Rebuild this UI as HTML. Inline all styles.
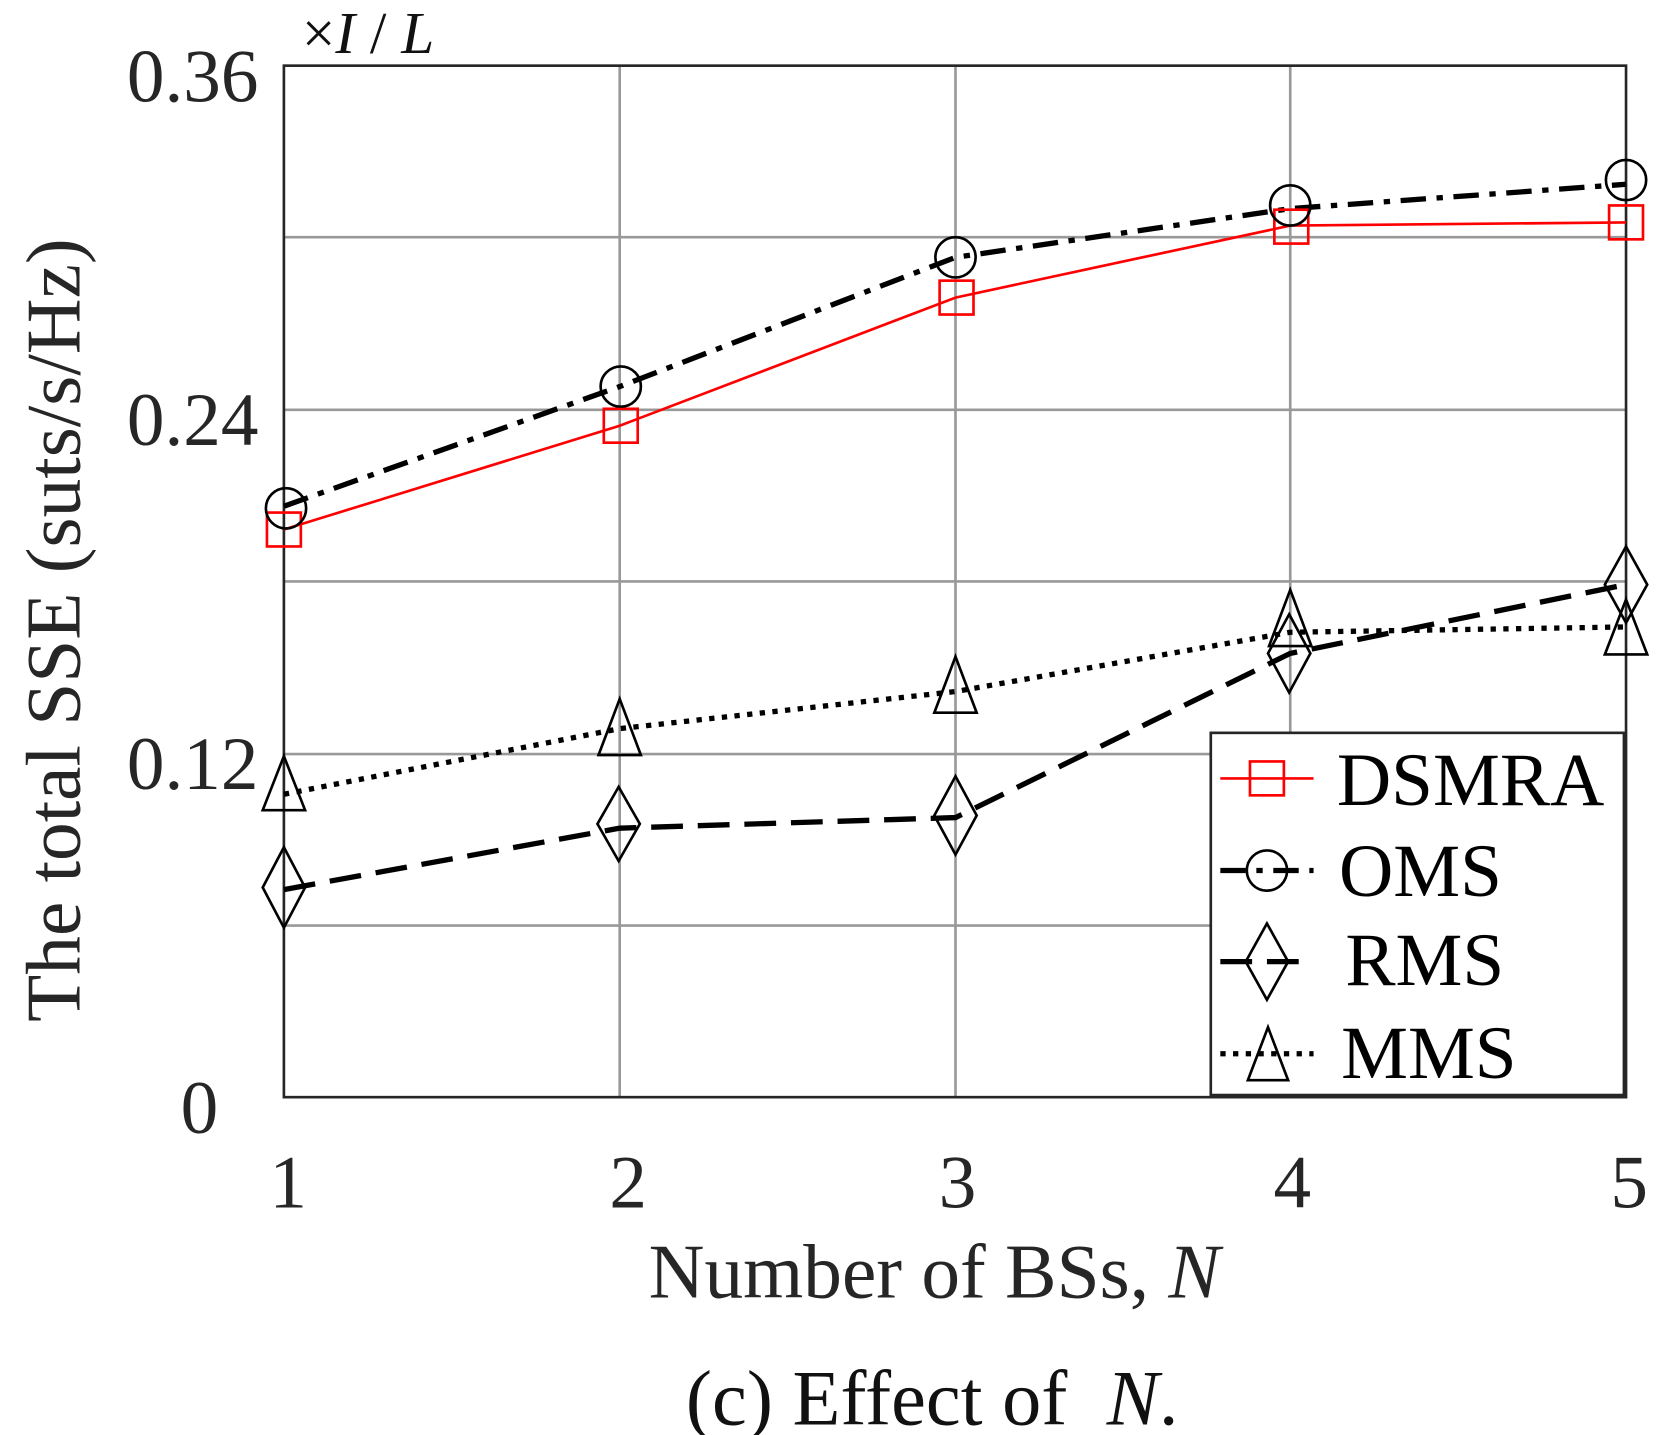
<!DOCTYPE html>
<html><head><meta charset="utf-8"><style>html,body{margin:0;padding:0;background:#fff}svg{display:block}</style></head>
<body>
<svg width="1661" height="1435" viewBox="0 0 1568 1355" preserveAspectRatio="none" xmlns="http://www.w3.org/2000/svg" font-family="'Liberation Serif',serif">
<rect width="1568" height="1355" fill="#fff"/>
<g stroke="#999" stroke-width="2.5">
<line x1="585" y1="62" x2="585" y2="1036"/><line x1="902" y1="62" x2="902" y2="1036"/><line x1="1218" y1="62" x2="1218" y2="1036"/>
<line x1="268" y1="224" x2="1535" y2="224"/><line x1="268" y1="387" x2="1535" y2="387"/><line x1="268" y1="549" x2="1535" y2="549"/><line x1="268" y1="712" x2="1535" y2="712"/><line x1="268" y1="874" x2="1535" y2="874"/>
</g>
<rect x="268" y="62" width="1267" height="974" fill="none" stroke="#262626" stroke-width="2.5"/>
<g fill="#262626" font-size="71" text-anchor="end">
<text x="244" y="96">0.36</text><text x="244" y="420">0.24</text><text x="244" y="745">0.12</text><text x="206" y="1070">0</text>
</g>
<g fill="#262626" font-size="71" text-anchor="middle">
<text x="272" y="1140">1</text><text x="593" y="1140">2</text><text x="904" y="1140">3</text><text x="1220" y="1140">4</text><text x="1538" y="1140">5</text>
</g>
<text x="882" y="1225" font-size="73" fill="#262626" text-anchor="middle">Number of BSs, <tspan font-style="italic">N</tspan></text>
<text x="880" y="1345" font-size="74" fill="#111" text-anchor="middle">(c) Effect of&#160; <tspan font-style="italic">N</tspan>.</text>
<text transform="translate(75,595) rotate(-90)" font-size="73" fill="#262626" text-anchor="middle">The total SSE (suts/s/Hz)</text>
<text x="285" y="50" font-size="56" fill="#111">×<tspan font-style="italic">I</tspan> / <tspan font-style="italic">L</tspan></text>
<polyline points="268,500 585,402 902,281 1218,213 1535,210" fill="none" stroke="#f00" stroke-width="2.5"/>
<polyline points="268,478 585,365 902,243 1218,197 1535,174" fill="none" stroke="#000" stroke-width="5" stroke-dasharray="24,10,6,10"/>
<polyline points="268,840 585,782 902,772 1218,617 1535,552" fill="none" stroke="#000" stroke-width="5" stroke-dasharray="30,14"/>
<polyline points="268,750 585,688 902,653 1218,597 1535,592" fill="none" stroke="#000" stroke-width="5" stroke-dasharray="5,7"/>
<g fill="none" stroke="#f00" stroke-width="2.5">
<rect x="252" y="484" width="32" height="32"/><rect x="570" y="386" width="32" height="32"/><rect x="887" y="265" width="32" height="32"/><rect x="1203" y="198" width="32" height="32"/><rect x="1519" y="194" width="32" height="32"/>
</g>
<g fill="none" stroke="#000" stroke-width="2.5">
<circle cx="270" cy="480" r="19"/><circle cx="586" cy="365" r="19"/><circle cx="902" cy="243" r="19"/><circle cx="1218" cy="194" r="19"/><circle cx="1535" cy="170" r="19"/>
<polygon points="268,800 288,838 268,876 248,838"/><polygon points="584,743 604,778 584,813 564,778"/><polygon points="902,733 922,770 902,807 882,770"/><polygon points="1217,580 1237,617 1217,654 1197,617"/><polygon points="1535,516 1555,552 1535,588 1515,552"/>
<polygon points="268,714 288,765 248,765"/><polygon points="585,660 605,713 565,713"/><polygon points="902,620 922,673 882,673"/><polygon points="1218,557 1238,610 1198,610"/><polygon points="1535,566 1555,618 1515,618"/>
</g>
<rect x="1143" y="692" width="390" height="342" fill="#fff" stroke="#262626" stroke-width="2.5"/>
<line x1="1152" y1="735" x2="1240" y2="735" stroke="#f00" stroke-width="2.5"/><rect x="1180" y="719" width="32" height="32" fill="none" stroke="#f00" stroke-width="2.5"/>
<line x1="1152" y1="822" x2="1240" y2="822" stroke="#000" stroke-width="5" stroke-dasharray="24,10,6,10"/><circle cx="1196" cy="822" r="19" fill="none" stroke="#000" stroke-width="2.5"/>
<line x1="1152" y1="908" x2="1240" y2="908" stroke="#000" stroke-width="5" stroke-dasharray="30,14"/><polygon points="1196,872 1216,908 1196,944 1176,908" fill="none" stroke="#000" stroke-width="2.5"/>
<line x1="1152" y1="995" x2="1240" y2="995" stroke="#000" stroke-width="5" stroke-dasharray="5,7"/><polygon points="1197,970 1216,1020 1178,1020" fill="none" stroke="#000" stroke-width="2.5"/>
<g font-size="71" fill="#000">
<text x="1262" y="760">DSMRA</text><text x="1264" y="846">OMS</text><text x="1270" y="930">RMS</text><text x="1266" y="1018">MMS</text>
</g>
</svg>
</body></html>
